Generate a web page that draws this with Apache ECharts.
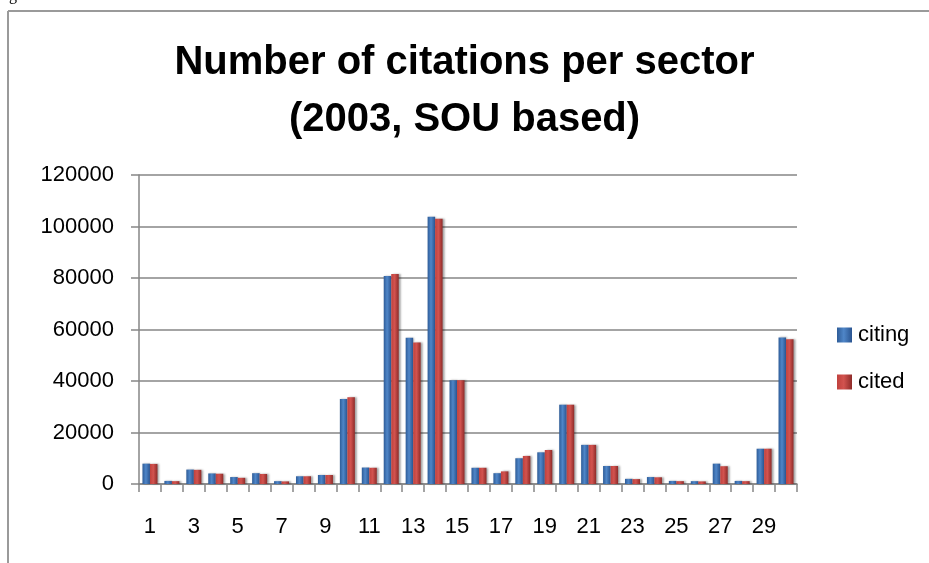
<!DOCTYPE html>
<html>
<head>
<meta charset="utf-8">
<script src="https://cdn.jsdelivr.net/npm/echarts@6/dist/echarts.min.js"></script>
<style>
html,body{margin:0;padding:0;background:#fff;}
#chart{width:929px;height:563px;}
</style>
</head>
<body>
<div id="chart"></div>
<script>
const categories = ['1','2','3','4','5','6','7','8','9','10','11','12','13','14','15','16','17','18','19','20','21','22','23','24','25','26','27','28','29','30'];
const citing = [7900,1200,5600,4100,2700,4200,1100,3000,3500,33000,6400,80800,56800,103800,40300,6300,4200,10000,12300,30800,15200,7000,2000,2700,1200,1100,7900,1200,13700,56900];
const cited  = [7800,1100,5500,4000,2400,3900,1000,3000,3500,33700,6300,81600,55000,103000,40300,6300,4900,10900,13200,30800,15200,7000,1900,2600,1100,1000,6900,1100,13700,56200];
const yTicks = [0,20000,40000,60000,80000,100000,120000];
const seriesNames = ['citing','cited'];
const titleText = 'Number of citations per sector\n(2003, SOU based)';

const axisGray = '#868686';
const fontFam = '"Liberation Sans", Arial, sans-serif';

function grad(c0, c1, c2) {
  return new echarts.graphic.LinearGradient(0, 0, 1, 0, [
    {offset: 0, color: c0}, {offset: 0.45, color: c1}, {offset: 1, color: c2}
  ]);
}

const chart = echarts.init(document.getElementById('chart'), null, {renderer: 'canvas'});
chart.setOption({
  animation: false,
  backgroundColor: '#ffffff',
  title: {
    text: titleText,
    left: 'center',
    top: 34,
    padding: [0, 0, 0, 19],
    textStyle: {fontFamily: fontFam, fontWeight: 'bold', fontSize: 40, lineHeight: 57, color: '#000'}
  },
  graphic: [
    {type: 'line', shape: {x1: 8, y1: 11, x2: 929, y2: 11}, style: {stroke: '#9a9a9a', lineWidth: 2}},
    {type: 'line', shape: {x1: 8, y1: 11, x2: 8, y2: 563}, style: {stroke: '#9a9a9a', lineWidth: 2}},
    {type: 'text', left: 9, top: -12, style: {text: 'g', font: '16px "Liberation Serif", serif', fill: '#000'}}
  ],
  legend: {
    orient: 'vertical',
    left: 837,
    top: 324,
    padding: 0,
    itemWidth: 15,
    itemHeight: 15,
    itemGap: 25,
    icon: 'rect',
    data: seriesNames,
    textStyle: {fontFamily: fontFam, fontSize: 22, color: '#000', padding: [0, 0, 0, 1]}
  },
  grid: {left: 139, right: 132, top: 175, bottom: 79, containLabel: false},
  xAxis: {
    type: 'category',
    data: categories,
    boundaryGap: true,
    axisLine: {lineStyle: {color: axisGray, width: 1.5}},
    axisTick: {show: true, interval: 0, length: 8, lineStyle: {color: axisGray, width: 1.5}},
    axisLabel: {interval: 1, margin: 32, fontFamily: fontFam, fontSize: 22, color: '#000'}
  },
  yAxis: {
    type: 'value',
    min: yTicks[0],
    max: yTicks[yTicks.length - 1],
    interval: yTicks[1] - yTicks[0],
    axisLine: {show: true, lineStyle: {color: axisGray, width: 1.5}},
    axisTick: {show: true, length: 8, lineStyle: {color: axisGray, width: 1.5}},
    splitLine: {lineStyle: {color: axisGray, width: 1.5}},
    axisLabel: {margin: 25, fontFamily: fontFam, fontSize: 22, color: '#000', formatter: function (v) { return String(v); }}
  },
  series: [
    {
      name: seriesNames[0], type: 'bar', data: citing,
      barWidth: 7.5, barGap: '0%',
      itemStyle: {color: grad('#2e5c98', '#4f86c8', '#2a5490'), shadowColor: 'rgba(0,0,0,0.3)', shadowBlur: 2, shadowOffsetX: 1}
    },
    {
      name: seriesNames[1], type: 'bar', data: cited,
      barWidth: 7.5, barGap: '0%',
      itemStyle: {color: grad('#c0413d', '#d2534f', '#8e2b29'), shadowColor: 'rgba(0,0,0,0.35)', shadowBlur: 2, shadowOffsetX: 2}
    }
  ]
});
</script>
</body>
</html>
